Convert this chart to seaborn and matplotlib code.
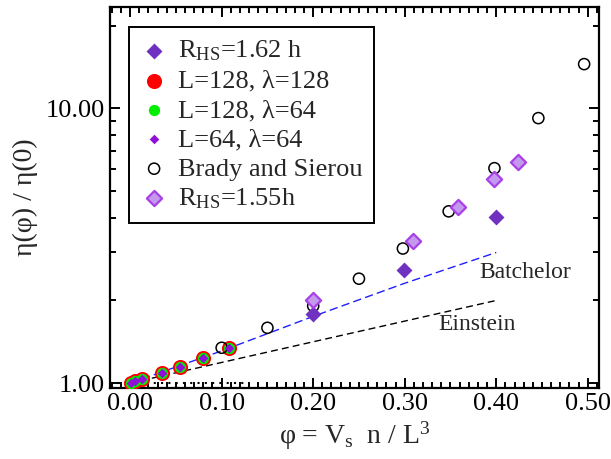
import numpy as np
import pandas as pd
import matplotlib
matplotlib.use("Agg")
import matplotlib.pyplot as plt
from matplotlib.ticker import FixedLocator, FixedFormatter, MultipleLocator, FormatStrFormatter
import seaborn as sns

# ---------------- data ----------------
# low-phi simulation points (three overlapping series)
phi_L128_128 = [0.001, 0.005, 0.013, 0.035, 0.055, 0.080, 0.108]
eta_L128_128 = [1.005, 1.015, 1.033, 1.088, 1.143, 1.232, 1.340]
phi_L128_64 = [0.001, 0.005, 0.013, 0.035, 0.055, 0.080, 0.108]
eta_L128_64 = [1.005, 1.015, 1.033, 1.088, 1.143, 1.232, 1.340]
phi_L64_64 = [0.001, 0.005, 0.013, 0.035, 0.055, 0.080, 0.108]
eta_L64_64 = [1.005, 1.015, 1.033, 1.088, 1.143, 1.232, 1.340]

phi_R162 = [0.200, 0.299, 0.400]
eta_R162 = [1.79, 2.59, 4.01]

phi_R155 = [0.200, 0.309, 0.358, 0.398, 0.424]
eta_R155 = [2.00, 3.30, 4.39, 5.52, 6.37]

phi_brady = [0.100, 0.150, 0.200, 0.250, 0.298, 0.348, 0.398, 0.446, 0.496]
eta_brady = [1.345, 1.59, 1.91, 2.40, 3.09, 4.22, 6.06, 9.22, 14.5]

phi_batch = [0.0, 0.1, 0.2, 0.3, 0.4]
eta_batch = [1.0, 1.31, 1.75, 2.31, 2.99]
phi_einst = [0.0, 0.4]
eta_einst = [1.0, 2.0]

phi_base = [-0.022, 0.125]
eta_base = [1.0, 1.0]

labels = ["R$_{\\mathrm{HS}}$=1.62 h", "L=128, λ=128", "L=128, λ=64",
          "L=64, λ=64", "Brady and Sierou", "R$_{\\mathrm{HS}}$=1.55h"]

# ---------------- style ----------------
sns.set_style("ticks")
plt.rcParams["font.family"] = ["Liberation Serif", "DejaVu Serif"]
plt.rcParams["mathtext.fontset"] = "custom"
plt.rcParams["mathtext.rm"] = "Liberation Serif"
plt.rcParams["mathtext.it"] = "Liberation Serif:italic"
plt.rcParams["mathtext.bf"] = "Liberation Serif:bold"

fig = plt.figure(figsize=(6.11, 4.59), dpi=100)
ax = fig.add_axes([0.180, 0.1547, 0.800, 0.830])

# theory lines
sns.lineplot(x=phi_batch, y=eta_batch, ax=ax, color="#1f1fff", lw=1.0,
             linestyle=(0, (6, 3)), zorder=2)
sns.lineplot(x=phi_einst, y=eta_einst, ax=ax, color="black", lw=1.0,
             linestyle=(0, (5, 3)), zorder=2)
sns.lineplot(x=phi_base, y=eta_base, ax=ax, color="black", lw=1.5,
             linestyle=(0, (1, 2.5)), zorder=1)

sns.scatterplot(x=phi_L128_128, y=eta_L128_128, ax=ax, marker="o", s=118,
                color="#ff0000", edgecolor="#ff0000", linewidth=0, zorder=3, label=labels[1])
sns.scatterplot(x=phi_L128_64, y=eta_L128_64, ax=ax, marker="o", s=66,
                color="#00ee00", edgecolor="#00ee00", linewidth=0, zorder=4, label=labels[2])
sns.scatterplot(x=phi_L64_64, y=eta_L64_64, ax=ax, marker="D", s=24,
                color="#9010d8", edgecolor="#9010d8", linewidth=0, zorder=5, label=labels[3])
sns.scatterplot(x=phi_brady, y=eta_brady, ax=ax, marker="o", s=64,
                facecolors="none", edgecolor="black", linewidth=1.1, zorder=4, label=labels[4])
sns.scatterplot(x=phi_R162, y=eta_R162, ax=ax, marker="D", s=66,
                color="#7030c0", edgecolor="#7030c0", linewidth=0, zorder=5, label=labels[0])
sns.scatterplot(x=phi_R155, y=eta_R155, ax=ax, marker="D", s=60,
                color="#c498ec", edgecolor="#a840e8", linewidth=1.6, zorder=6, label=labels[5])

ax.set_yscale("log")
ax.set_xlim(-0.022, 0.512)
ax.set_ylim(0.96, 23.4)

ax.yaxis.set_major_locator(FixedLocator([1, 10]))
ax.yaxis.set_major_formatter(FixedFormatter(["1.00", "10.00"]))
ax.yaxis.set_minor_locator(FixedLocator([2, 3, 4, 5, 6, 7, 8, 9, 20]))
ax.yaxis.set_minor_formatter(FixedFormatter([""] * 9))
ax.xaxis.set_major_locator(MultipleLocator(0.1))
ax.xaxis.set_major_formatter(FormatStrFormatter("%.2f"))
ax.xaxis.set_minor_locator(MultipleLocator(0.01))

ax.tick_params(which="both", direction="in", top=True, right=True, width=1.4,
               labelsize=19, colors="black")
ax.tick_params(which="major", length=7)
ax.tick_params(which="minor", length=4)
for sp in ax.spines.values():
    sp.set_linewidth(1.6)
    sp.set_color("black")

ax.set_xlabel("φ = V$_{\\mathrm{s}}$  n / L$^{3}$", fontsize=20, labelpad=3)
ax.set_ylabel("η(φ) / η(0)", fontsize=20, labelpad=6)

ax.text(0.382, 2.52, "Batchelor", fontsize=17, va="center", ha="left")
ax.text(0.337, 1.64, "Einstein", fontsize=17, va="center", ha="left")

handles, labs = ax.get_legend_handles_labels()
hmap = dict(zip(labs, handles))
leg = ax.legend([hmap[l] for l in labels], labels, loc="upper left",
                bbox_to_anchor=(0.039, 0.9475), borderaxespad=0, fontsize=19,
                frameon=True, fancybox=False, edgecolor="black", framealpha=1,
                handletextpad=0.4, labelspacing=0.22, borderpad=0.45,
                handlelength=1.0, markerscale=1.0)
leg.get_frame().set_linewidth(1.4)

fig.savefig("out.png", dpi=100, facecolor="white")
